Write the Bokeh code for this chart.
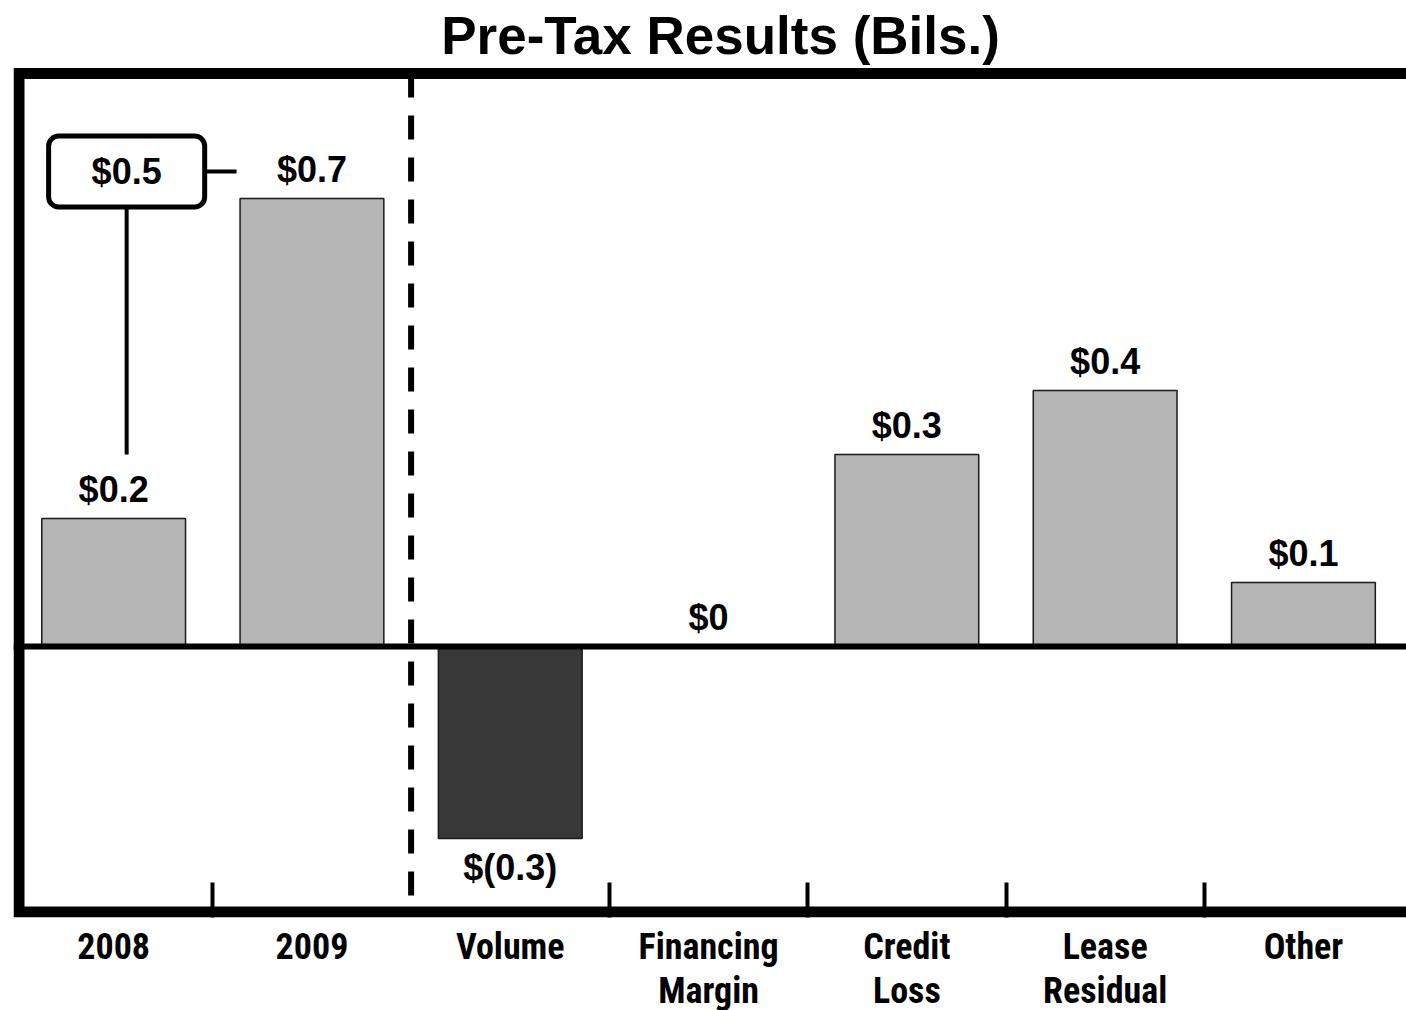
from bokeh.plotting import figure
from bokeh.models import Range1d, FixedTicker, Span, Label, ColumnDataSource
from bokeh.core.properties import value
from bokeh.embed import file_html
from bokeh.resources import INLINE

# ---- data: pre-tax results, billions of dollars ----
categories = ["2008", "2009", "Volume", "Financing\nMargin", "Credit\nLoss",
              "Lease\nResidual", "Other"]
pretax = [0.2, 0.7, -0.3, 0.0, 0.3, 0.4, 0.1]
n_totals = 2  # yearly totals sit left of the dashed divider
title_text = "Pre-Tax Results (Bils.)"


def money(v):
    if abs(v) < 1e-9:
        return "$0"
    if v < 0:
        return f"$({abs(v):.1f})"
    return f"${v:.1f}"


value_labels = [money(v) for v in pretax]
change_label = money(pretax[1] - pretax[0])

# ---- layout (screen pixels) ----
W = 1406
FRAME_LEFT, FRAME_H = 13, 917
X0_PX, CAT_PX = 14.0, 198.3        # boundary 0 position, width of one category
ZERO_PX, UNIT_PX = 646.0, 640.0    # zero line position, pixels per billion


def xdata(px):
    return (px - X0_PX) / CAT_PX


def ydata(py):
    return (ZERO_PX - py) / UNIT_PX


FONT = "Liberation Sans"
NARROW = "Roboto Condensed, Liberation Sans Narrow, Arial Narrow, Liberation Sans"
LABEL_GAP = 29  # px between a bar end and its value label centre

xs = [i + 0.5 for i in range(len(categories))]
colors = ["#383838" if v < 0 else "#b5b5b5" for v in pretax]
offsets = [LABEL_GAP if v < 0 else -LABEL_GAP for v in pretax]
boundaries = [b for b in range(1, len(categories)) if b != n_totals]

src = ColumnDataSource(dict(x=xs, top=pretax, color=colors, label=value_labels, yoff=offsets))

p = figure(frame_width=W - FRAME_LEFT, frame_height=FRAME_H,
           x_range=Range1d(xdata(FRAME_LEFT), xdata(W)),
           y_range=Range1d(ydata(FRAME_H), ydata(0)),
           output_backend="svg", toolbar_location=None, y_axis_location=None,
           min_border_left=FRAME_LEFT, min_border_right=0, min_border_top=0,
           min_border_bottom=0, title=None)
p.outline_line_color = None
p.background_fill_color = "white"
p.border_fill_color = "white"
p.grid.visible = False

# bars
p.vbar(x="x", top="top", bottom=0, width=0.725, source=src,
       fill_color="color", line_color="#1a1a1a", line_width=1.5)

# open frame: top, left and bottom sides
x_left, x_far = xdata(18.5), xdata(W) + 1
y_top, y_bot = ydata(73), ydata(911.5)
p.line(x=[x_far, x_left, x_left, x_far], y=[y_top, y_top, y_bot, y_bot],
       line_color="black", line_width=11, line_join="miter")

# dashed divider between totals and drivers
p.segment(x0=[n_totals], y0=[y_top], x1=[n_totals], y1=[y_bot],
          line_color="black", line_width=6, line_dash="24 18")

# zero line
p.add_layout(Span(location=0, dimension="width", line_color="black", line_width=6))

# value labels
p.text(x="x", y="top", text="label", y_offset="yoff", source=src,
       text_align="center", text_baseline="middle",
       text_font=value(FONT), text_font_style="bold", text_font_size="36px",
       text_color="black")

# year-over-year change callout
ax_x = xs[0] + 13 / CAT_PX
box_y = pretax[1] + 27 / UNIT_PX
p.segment(x0=[ax_x, ax_x], y0=[pretax[0] + 64 / UNIT_PX, box_y],
          x1=[ax_x, xs[1] - 0.38], y1=[box_y, box_y],
          line_color="black", line_width=4)
p.add_layout(Label(x=ax_x, y=box_y, text=change_label, anchor="center",
                   text_align="center", text_baseline="middle",
                   padding=dict(left=43, right=43, top=15, bottom=15),
                   border_radius=10, border_line_color="black", border_line_width=5,
                   background_fill_color="white", text_color="black",
                   text_font=FONT, text_font_style="bold", text_font_size="36px"))

# title
p.text(x=[len(categories) / 2], y=[ydata(35)], text=[title_text], x_offset=12,
       text_align="center", text_baseline="middle", text_color="black",
       text_font=value(FONT), text_font_style="bold", text_font_size="53px")

# category axis with boundary ticks pointing inward
xa = p.xaxis[0]
xa.ticker = FixedTicker(ticks=xs, minor_ticks=boundaries)
xa.major_label_overrides = {x: c for x, c in zip(xs, categories)}
xa.axis_line_color = None
xa.major_tick_line_color = None
xa.minor_tick_in = 35
xa.minor_tick_out = 0
xa.minor_tick_line_width = 4
xa.minor_tick_line_color = "black"
xa.major_label_standoff = 2
xa.major_label_text_font = NARROW
xa.major_label_text_font_style = "bold"
xa.major_label_text_font_size = "36px"
xa.major_label_text_line_height = 1.07
xa.major_label_text_color = "black"

open("out.html", "w").write(file_html(p, INLINE))
